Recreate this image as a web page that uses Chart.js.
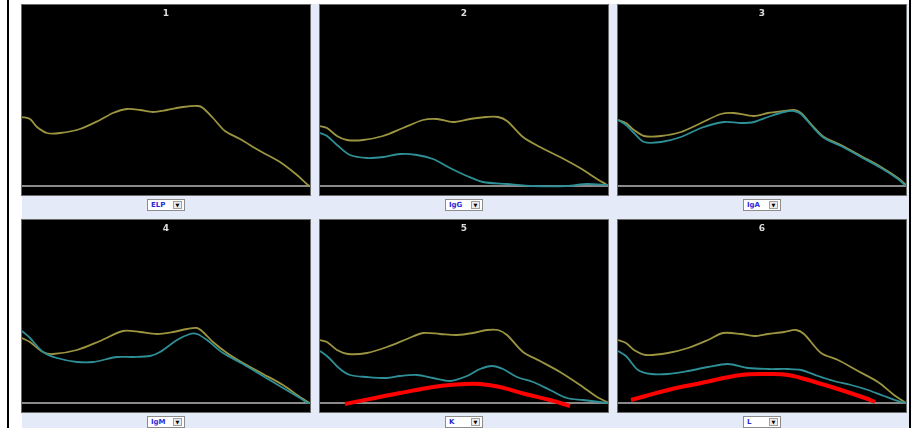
<!DOCTYPE html>
<html>
<head>
<meta charset="utf-8">
<script src="https://cdn.jsdelivr.net/npm/chart.js@4.4.1/dist/chart.umd.min.js"></script>
<style>
html, body { margin: 0; padding: 0; background: #fff; }
#stage { position: relative; width: 914px; height: 428px; overflow: hidden; background: #fff; }
#lline { position: absolute; left: 7px; top: 0; width: 2px; height: 428px; background: #000; }
#rline { position: absolute; left: 909px; top: 0; width: 2px; height: 428px; background: #000; }
#blue { position: absolute; left: 22px; top: 4px; width: 887px; height: 424px; background: #e4eaf7; }
.panel { position: absolute; background: #000; box-shadow: 0 0 0 1px #6a6a6a; }
.panel canvas { display: block; }
.pick { position: absolute; width: 38px; height: 12px; background: #fff; border: 1px solid #8c8c8c;
  box-sizing: border-box; font: bold 7px "DejaVu Sans", sans-serif; color: #2a2ad8; line-height: 10px; padding-left: 3px; }
.pick span { position: absolute; right: 2px; top: 1px; width: 9px; height: 8px; background: #ececec; border: 1px solid #a0a0a0;
  box-sizing: border-box; font-size: 5px; line-height: 6px; text-align: center; color: #000; }
</style>
</head>
<body>
<div id="stage">
  <div id="lline"></div>
  <div id="blue"></div>
  <div id="rline"></div>
</div>
<script>
// titels en keuzelijsten
var panelTitles = ['1', '2', '3', '4', '5', '6'];
var pickLabels = ['ELP', 'IgG', 'IgA', 'IgM', 'K', 'L'];

// curves: [x (px vanaf links), hoogte boven basislijn]
var elp1 = [[0,69],[8,67],[15,59],[25,53],[38,53],[58,57],[78,66],[91,73],[105,77],[118,76],[131,74],[145,76],[161,79],[176,80],[181,78],[191,68],[203,55],[218,47],[238,35],[258,24],[275,11],[286,1],[288,0]];

var elp2 = [[0,60],[7,58],[17,50],[27,46],[43,46],[63,50],[83,58],[103,66],[117,67],[133,64],[150,67],[167,69],[178,69],[187,65],[203,49],[220,39],[240,29],[260,18],[277,7],[287,1],[288,0]];
var igg2 = [[0,53],[7,50],[17,41],[30,31],[47,28],[63,29],[80,32],[97,31],[113,27],[130,18],[147,10],[163,4],[187,2],[213,0],[247,0],[267,2],[288,1]];

var elp3 = [[0,66],[8,63],[16,56],[26,50],[43,50],[63,54],[83,63],[103,72],[116,73],[136,70],[150,73],[166,75],[176,76],[183,73],[193,62],[206,49],[223,41],[243,30],[263,19],[280,8],[288,1]];
var iga3 = [[0,66],[8,61],[16,53],[26,44],[43,44],[63,49],[83,58],[106,64],[123,63],[136,64],[150,69],[166,74],[176,75],[183,72],[193,61],[206,48],[223,40],[243,29],[263,18],[280,7],[288,0]];

var elp4 = [[0,65],[8,61],[21,51],[31,49],[55,53],[78,62],[101,72],[118,71],[135,69],[151,71],[165,74],[175,75],[181,71],[191,61],[205,50],[221,40],[241,29],[261,18],[278,6],[286,1],[288,0]];
var igm4 = [[0,72],[8,65],[21,51],[35,45],[55,41],[71,41],[95,46],[111,46],[128,47],[138,51],[155,63],[168,69],[175,69],[185,63],[201,50],[221,39],[241,27],[261,15],[278,5],[286,0],[288,0]];

var elp5 = [[0,63],[7,61],[17,53],[28,49],[47,50],[67,56],[87,64],[103,70],[120,69],[137,68],[153,70],[167,73],[178,73],[187,68],[203,51],[220,42],[240,31],[260,18],[277,6],[287,1],[288,0]];
var k5 = [[0,52],[8,46],[20,34],[30,28],[47,26],[67,25],[80,27],[97,28],[113,25],[130,22],[147,27],[160,34],[172,37],[183,34],[197,26],[213,21],[230,13],[247,5],[263,3],[288,0]];
var red5 = [[25,-1],[80,10],[120,17],[145,19],[160,19],[180,16],[205,9],[230,3],[250,-3]];

var elp6 = [[0,63],[8,60],[16,53],[28,48],[50,50],[70,55],[90,63],[105,70],[123,69],[136,67],[150,69],[166,71],[178,73],[186,69],[203,50],[220,43],[240,32],[260,21],[276,8],[288,0]];
var l6 = [[0,52],[8,47],[20,33],[33,29],[50,29],[70,32],[90,36],[110,39],[130,35],[150,34],[170,34],[183,33],[200,27],[216,22],[233,18],[250,13],[266,7],[283,1],[288,0]];
var red6 = [[13,3],[50,13],[83,20],[123,28],[150,29],[170,28],[197,21],[223,13],[247,5],[257,1]];

var panels = [
  { left: 22,  top: 5,   h: 190, elp: elp1, ig: null, red: null },
  { left: 320, top: 5,   h: 190, elp: elp2, ig: igg2, red: null },
  { left: 618, top: 5,   h: 190, elp: elp3, ig: iga3, red: null },
  { left: 22,  top: 220, h: 192, elp: elp4, ig: igm4, red: null },
  { left: 320, top: 220, h: 192, elp: elp5, ig: k5,   red: red5 },
  { left: 618, top: 220, h: 192, elp: elp6, ig: l6,   red: red6 }
];

var PANEL_W = 288;
var TITLE_H = 3 + 9 * 1.2; // padding + regelhoogte
var BELOW = 9;             // ruimte onder de basislijn

function toPoints(arr) {
  return arr.map(function (p) { return { x: p[0], y: p[1] }; });
}

function curve(arr, color, width, order) {
  return {
    data: toPoints(arr),
    borderColor: color,
    borderWidth: width,
    pointRadius: 0,
    tension: 0.3,
    order: order,
    fill: false
  };
}

function maakPaneel(i) {
  var p = panels[i];
  var stage = document.getElementById('stage');

  var box = document.createElement('div');
  box.className = 'panel';
  box.style.left = p.left + 'px';
  box.style.top = p.top + 'px';
  box.style.width = PANEL_W + 'px';
  box.style.height = p.h + 'px';
  var canvas = document.createElement('canvas');
  canvas.width = PANEL_W;
  canvas.height = p.h;
  box.appendChild(canvas);
  stage.appendChild(box);

  var pick = document.createElement('div');
  pick.className = 'pick';
  pick.style.left = (p.left + PANEL_W / 2 - 19) + 'px';
  pick.style.top = (p.top + p.h + 4) + 'px';
  pick.innerHTML = pickLabels[i] + '<span>&#9660;</span>';
  stage.appendChild(pick);

  var datasets = [curve(p.elp, '#9c9540', 1.8, 2)];
  if (p.ig) datasets.push(curve(p.ig, '#2e9096', 1.8, 1));
  if (p.red) {
    var r = curve(p.red, '#ff0000', 4, 0);
    r.tension = 0.4;
    datasets.push(r);
  }

  new Chart(canvas, {
    type: 'line',
    data: { datasets: datasets },
    options: {
      responsive: false,
      animation: false,
      layout: { padding: 0 },
      scales: {
        x: { type: 'linear', display: false, min: 0, max: PANEL_W },
        y: {
          min: -BELOW,
          max: p.h - TITLE_H - BELOW,
          afterBuildTicks: function (axis) { axis.ticks = [{ value: 0 }]; },
          ticks: { display: false },
          border: { display: false },
          grid: { color: '#8a8a8a', lineWidth: 2, drawTicks: false }
        }
      },
      plugins: {
        legend: { display: false },
        tooltip: { enabled: false },
        title: {
          display: true,
          text: panelTitles[i],
          color: '#dcdcdc',
          font: { size: 9, weight: 'bold', family: 'DejaVu Sans', lineHeight: 1.2 },
          padding: { top: 3, bottom: 0 }
        }
      }
    }
  });
}

window.onload = function () {
  for (var i = 0; i < panels.length; i++) maakPaneel(i);
};
</script>
</body>
</html>
